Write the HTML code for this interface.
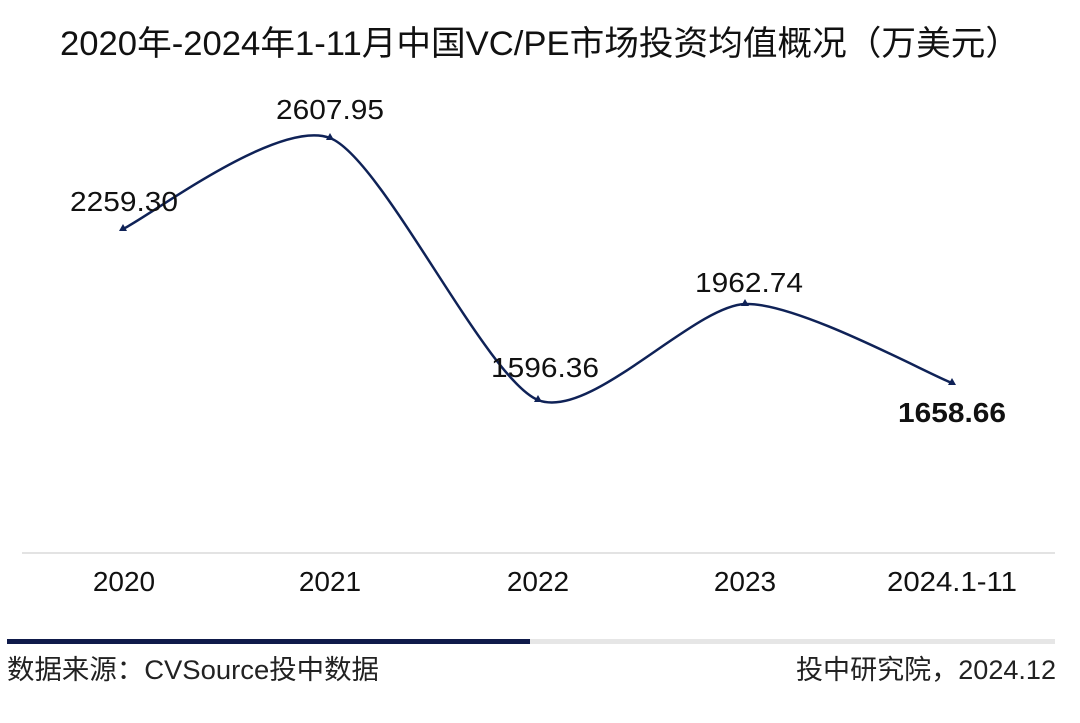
<!DOCTYPE html>
<html><head><meta charset="utf-8"><style>
body{margin:0;background:#fff;width:1080px;height:718px;overflow:hidden;font-family:"Liberation Sans","Noto Sans CJK SC",sans-serif;}
</style></head><body>
<svg width="1080" height="718" xmlns="http://www.w3.org/2000/svg" font-family="Liberation Sans, Noto Sans CJK SC, sans-serif">
<text x="540" y="55" font-size="34" text-anchor="middle" fill="#111" textLength="960" lengthAdjust="spacingAndGlyphs">2020年-2024年1-11月中国VC/PE市场投资均值概况（万美元）</text>
<line x1="22" y1="553" x2="1055" y2="553" stroke="#e3e3e3" stroke-width="2"/>
<path d="M123,229 C149,217 278,118 330,138 C382,158 486,379 538,400 C590,421 693,306 745,304 C797,302 926,373 952,383" fill="none" stroke="#0f2257" stroke-width="2.5"/>
<g fill="#0f2257">
<polygon points="123,224 127,231 119,231"/>
<polygon points="330,133 334,140 326,140"/>
<polygon points="538,395 542,402 534,402"/>
<polygon points="745,299 749,306 741,306"/>
<polygon points="952,378 956,385 948,385"/>
</g>
<g font-size="28" fill="#111" text-anchor="middle">
<text x="124" y="211" textLength="108" lengthAdjust="spacingAndGlyphs">2259.30</text>
<text x="330" y="119" textLength="108" lengthAdjust="spacingAndGlyphs">2607.95</text>
<text x="545" y="377" textLength="108" lengthAdjust="spacingAndGlyphs">1596.36</text>
<text x="749" y="292" textLength="108" lengthAdjust="spacingAndGlyphs">1962.74</text>
<text x="952" y="422" font-weight="bold" textLength="108" lengthAdjust="spacingAndGlyphs">1658.66</text>
</g>
<g font-size="28" fill="#111" text-anchor="middle">
<text x="124" y="591">2020</text>
<text x="330" y="591">2021</text>
<text x="538" y="591">2022</text>
<text x="745" y="591">2023</text>
<text x="952" y="591" textLength="130" lengthAdjust="spacingAndGlyphs">2024.1-11</text>
</g>
<rect x="530" y="639" width="525" height="5" fill="#e6e6e6"/>
<rect x="7" y="639" width="523" height="5" fill="#0f1a4a"/>
<text x="7" y="679" font-size="27" fill="#222" textLength="372" lengthAdjust="spacingAndGlyphs">数据来源：CVSource投中数据</text>
<text x="1056" y="679" font-size="27" fill="#222" text-anchor="end" textLength="260" lengthAdjust="spacingAndGlyphs">投中研究院，2024.12</text>
</svg>
</body></html>
